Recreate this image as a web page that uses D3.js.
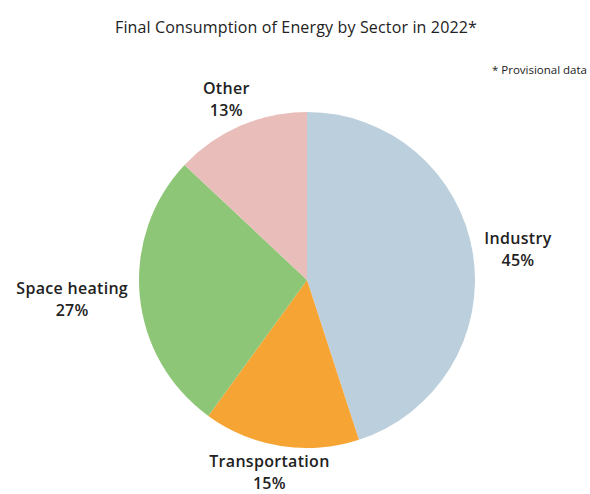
<!DOCTYPE html>
<html>
<head>
<meta charset="utf-8">
<script src="https://cdn.jsdelivr.net/npm/d3@7"></script>
<style>
  html, body { margin: 0; padding: 0; background: #fff; }
  svg { display: block; }
  text { font-family: "Open Sans", "Noto Sans", sans-serif; fill: #222; }
</style>
</head>
<body>
<svg id="chart" width="590" height="494"></svg>
<script>
// Final energy consumption shares, 2022 (provisional)
const sectors = ["Industry", "Transportation", "Space heating", "Other"];
const shares = [45, 15, 27, 13];
const colors = ["#bccfdc", "#f6a535", "#8cc676", "#e8bdba"];
const titleText = "Final Consumption of Energy by Sector in 2022*";
const noteText = "* Provisional data";

const width = 590, height = 494;
const cx = 307, cy = 280, radius = 168;

const svg = d3.select("#chart");

svg.append("text")
  .attr("x", 296).attr("y", 33)
  .attr("text-anchor", "middle")
  .attr("font-size", 16)
  .attr("font-weight", 500)
  .attr("letter-spacing", 0.15)
  .text(titleText);

svg.append("text")
  .attr("x", 587).attr("y", 74)
  .attr("text-anchor", "end")
  .attr("font-family", "DejaVu Sans, sans-serif")
  .attr("font-size", 11.5)
  .attr("fill", "#333")
  .text(noteText);

const data = sectors.map((s, i) => ({ sector: s, value: shares[i], color: colors[i] }));

const pie = d3.pie().value(d => d.value).sort(null);
const arc = d3.arc().innerRadius(0).outerRadius(radius);
const arcs = pie(data);

const g = svg.append("g").attr("transform", `translate(${cx},${cy})`);

g.selectAll("path.slice")
  .data(arcs)
  .join("path")
  .attr("class", "slice")
  .attr("d", arc)
  .attr("fill", d => d.data.color);

// Outside labels: a two-line block placed just beyond the rim along the slice's mid-angle,
// kept inside the drawing area
const gap = 12, lineH = 22, blockH = 34, fs = 16;
const labels = g.selectAll("g.label")
  .data(arcs)
  .join("g")
  .attr("class", "label");

labels.each(function(d) {
  const sel = d3.select(this);
  const mk = txt => sel.append("text")
    .attr("text-anchor", "middle")
    .attr("font-size", fs)
    .attr("font-weight", 600)
    .attr("letter-spacing", 0.3)
    .text(txt);
  const t1 = mk(d.data.sector);
  const t2 = mk(d.data.value + "%");
  const w = Math.max(t1.node().getComputedTextLength(), t2.node().getComputedTextLength());
  const mid = (d.startAngle + d.endAngle) / 2;
  const ax = Math.sin(mid) * (radius + gap);
  const ay = -Math.cos(mid) * (radius + gap);
  const x = ax + Math.sin(mid) * w / 2;
  let y = ay - Math.cos(mid) * blockH / 2;
  y = Math.min(y, height - cy - blockH / 2 - 5);
  t1.attr("x", x).attr("y", y - 5);
  t2.attr("x", x).attr("y", y - 5 + lineH);
});
</script>
</body>
</html>
